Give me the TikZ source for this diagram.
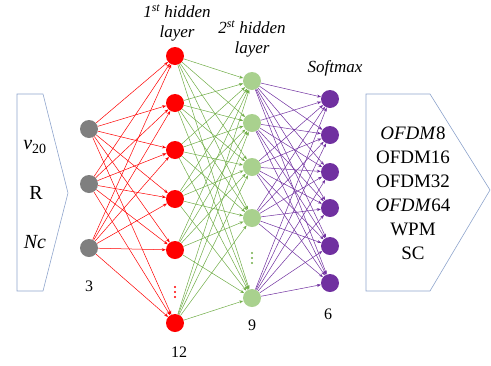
\documentclass[tikz,border=0pt]{standalone}
\usepackage{fontspec}
\setmainfont{Liberation Serif}
\usetikzlibrary{arrows.meta}
\definecolor{pentc}{RGB}{143,165,205}
\definecolor{grayn}{RGB}{127,127,127}
\definecolor{redn}{RGB}{255,0,0}
\definecolor{greenn}{RGB}{169,209,142}
\definecolor{greene}{RGB}{112,173,71}
\definecolor{purpn}{RGB}{112,48,160}
\tikzset{
  neuron/.style={circle,inner sep=0pt,minimum size=18pt,draw=none},
  edge/.style={line width=0.5pt,-{Stealth[length=4pt,width=3pt]}},
  pent/.style={draw=pentc,line width=0.6pt},
  inlbl/.style={font=\fontsize{20}{22}\selectfont,inner sep=0pt},
  cnt/.style={font=\fontsize{16}{18}\selectfont,inner sep=0pt},
  layerlbl/.style={font=\fontsize{17}{20}\selectfont\itshape,align=center,inner sep=0pt},
  outtxt/.style={font=\fontsize{19}{24}\selectfont,align=center,inner sep=0pt},
}
\begin{document}
\begin{tikzpicture}[x=1pt,y=-1pt]
\useasboundingbox (0,0) rectangle (491,365);
% pentagons
\draw[pent] (17,94) -- (43,94) -- (68,193) -- (43,291) -- (17,291) -- cycle;
\draw[pent] (366,94) -- (430,94) -- (490,190) -- (430,291) -- (366,291) -- cycle;
% input texts
\node[inlbl] (tv) at (35,147) {\textit{v}\textsubscript{20}};
\node[inlbl] (tr) at (36,193) {R};
\node[inlbl] (tn) at (35,242) {\textit{Nc}};
% output texts
\node[outtxt] (tout) at (413,193) {\textit{OFDM}8\\OFDM16\\OFDM32\\\textit{OFDM}64\\WPM\\SC};
% neurons
\foreach \y [count=\i] in {129,184,248} \node[neuron,fill=grayn] (i\i) at (89,\y) {};
\foreach \y [count=\i] in {56,103,150,199,250,323} \node[neuron,fill=redn] (a\i) at (175,\y) {};
\foreach \y [count=\i] in {81,123,167,218,298} \node[neuron,fill=greenn] (b\i) at (252,\y) {};
\foreach \y [count=\i] in {99,135,172,208,246,283} \node[neuron,fill=purpn] (c\i) at (330,\y) {};
% edges
\foreach \s in {1,...,3} \foreach \t in {1,...,6} \draw[edge,redn] (i\s) -- (a\t);
\foreach \s in {1,...,6} \foreach \t in {1,...,5} \draw[edge,greene] (a\s) -- (b\t);
\foreach \s in {1,...,5} \foreach \t in {1,...,6} \draw[edge,purpn] (b\s) -- (c\t);
% dots
\foreach \y in {287,292,297} \fill[redn] (175,\y) circle (1.1);
\foreach \y in {253,258,263} \fill[greene] (252,\y) circle (1.1);
% counts
\node[cnt] (n3) at (89,286) {3};
\node[cnt] (n12) at (179,352) {12};
\node[cnt] (n9) at (252,325) {9};
\node[cnt] (n6) at (328,314) {6};
% layer labels
\node[layerlbl] (l1) at (177,23) {1\textsuperscript{st} hidden\\layer};
\node[layerlbl] (l2) at (252,39) {2\textsuperscript{st} hidden\\layer};
\node[layerlbl] (l3) at (335,68) {Softmax};
\end{tikzpicture}
\end{document}
